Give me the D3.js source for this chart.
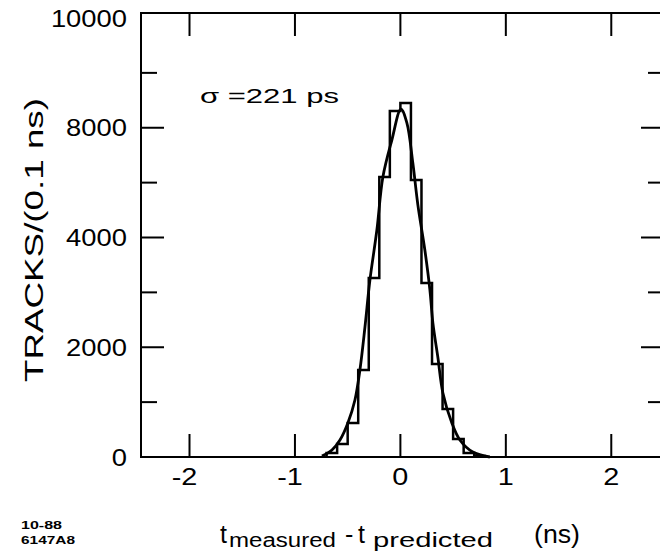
<!DOCTYPE html>
<html>
<head>
<meta charset="utf-8">
<script src="https://cdn.jsdelivr.net/npm/d3@7/dist/d3.min.js"></script>
<style>
  html, body { margin: 0; padding: 0; background: #fff; }
  svg { display: block; }
  text { font-family: "Liberation Sans", Arial, Helvetica, sans-serif; fill: #000; }
</style>
</head>
<body>
<svg id="chart" width="660" height="555"></svg>
<script>
// ---------- data ----------
const xTickValues = [-2, -1, 0, 1, 2];
const xTickLabels = ["-2", "-1", "0", "1", "2"];
const yTickValues = [0, 2000, 4000, 6000, 8000];
const yTickLabels = ["0", "2000", "4000", "8000", "10000"];
const yMinorValues = [1000, 3000, 5000, 7000];

// histogram: left edge of each 0.1 ns bin and its count
const binLeft   = [-0.7, -0.6, -0.5, -0.4, -0.3, -0.2, -0.1, 0.0, 0.1, 0.2, 0.3, 0.4, 0.5, 0.6, 0.7];
const binCounts = [73, 237, 620, 1585, 3262, 5103, 6305, 6451, 5048, 3171, 1695, 875, 328, 73, 18];
const binWidth = 0.1;

// fitted gaussian curve
const fitX = [-0.744, -0.649, -0.573, -0.498, -0.431, -0.384, -0.336, -0.289, -0.223, -0.166, -0.081, 0.005,
              0.062, 0.118, 0.166, 0.232, 0.280, 0.308, 0.355, 0.403, 0.488, 0.564, 0.687, 0.848];
const fitY = [18, 128, 310, 620, 1039, 1585, 2369, 3225, 4136, 5103, 5776, 6341,
              6086, 5357, 4591, 3772, 3043, 2442, 1822, 1166, 620, 310, 91, 0];

const sigmaText = "σ =221 ps";
const yTitle = "TRACKS/(0.1 ns)";
const footer = ["10-88", "6147A8"];

// ---------- layout ----------
const svg = d3.select("#chart");
const frame = { left: 141, right: 664, top: 13, bottom: 457 };

const x = d3.scaleLinear().domain([-2.46, 2.5]).range([frame.left, frame.right]);
const y = d3.scaleLinear().domain([0, 8000]).range([frame.bottom, 18]);

function stretch(sel, k) {
  sel.each(function () {
    const w = this.getComputedTextLength();
    d3.select(this).attr("textLength", w * k).attr("lengthAdjust", "spacingAndGlyphs");
  });
}

const majorLen = 23, minorLen = 16;
const axisStroke = 2;

// frame
svg.append("rect")
  .attr("x", frame.left).attr("y", frame.top)
  .attr("width", frame.right - frame.left).attr("height", frame.bottom - frame.top)
  .attr("fill", "none").attr("stroke", "#000").attr("stroke-width", axisStroke);

// x ticks (bottom, pointing up; top, pointing down)
const g = svg.append("g").attr("stroke", "#000").attr("stroke-width", axisStroke);
xTickValues.forEach(v => {
  g.append("line").attr("x1", x(v)).attr("x2", x(v)).attr("y1", frame.bottom).attr("y2", frame.bottom - majorLen);
  g.append("line").attr("x1", x(v)).attr("x2", x(v)).attr("y1", frame.top).attr("y2", frame.top + majorLen);
});
// y ticks left and right
yTickValues.filter(v => v > 0 && v < 8000).forEach(v => {
  g.append("line").attr("x1", frame.left).attr("x2", frame.left + majorLen).attr("y1", y(v)).attr("y2", y(v));
  g.append("line").attr("x1", frame.right).attr("x2", frame.right - majorLen).attr("y1", y(v)).attr("y2", y(v));
});
yMinorValues.forEach(v => {
  g.append("line").attr("x1", frame.left).attr("x2", frame.left + minorLen).attr("y1", y(v)).attr("y2", y(v));
  g.append("line").attr("x1", frame.right).attr("x2", frame.right - minorLen).attr("y1", y(v)).attr("y2", y(v));
});

// y tick labels
const yl = svg.append("g").selectAll("text").data(yTickValues).join("text")
  .attr("x", 127).attr("y", d => y(d)).attr("dy", "0.36em")
  .attr("text-anchor", "end").attr("font-size", 24)
  .text((d, i) => yTickLabels[i]);
stretch(yl, 1.14);

// x tick labels
const xl = svg.append("g").selectAll("text").data(xTickValues).join("text")
  .attr("x", d => x(d) - (d < 0 ? 5 : 0)).attr("y", 485)
  .attr("text-anchor", "middle").attr("font-size", 24)
  .text((d, i) => xTickLabels[i]);
stretch(xl, 1.2);

// histogram outline
const histPts = [{ x: binLeft[0], y: 0 }]
  .concat(binLeft.map((b, i) => ({ x: b, y: binCounts[i] })))
  .concat([{ x: binLeft[binLeft.length - 1] + binWidth, y: 0 }]);
svg.append("path")
  .attr("d", d3.line().x(d => x(d.x)).y(d => y(d.y)).curve(d3.curveStepAfter)(histPts))
  .attr("fill", "none").attr("stroke", "#000").attr("stroke-width", 2.5).attr("stroke-linejoin", "miter");

// fit curve
const fitPts = fitX.map((v, i) => ({ x: v, y: fitY[i] }));
svg.append("path")
  .attr("d", d3.line().x(d => x(d.x)).y(d => y(d.y)).curve(d3.curveCatmullRom.alpha(0.5))(fitPts))
  .attr("fill", "none").attr("stroke", "#000").attr("stroke-width", 2.8);

// sigma annotation
svg.append("text").attr("x", 200).attr("y", 103).attr("font-size", 21)
  .attr("textLength", 139).attr("lengthAdjust", "spacingAndGlyphs").text(sigmaText);

// y title
svg.append("text")
  .attr("transform", "translate(43,240) rotate(-90)")
  .attr("text-anchor", "middle").attr("font-size", 25)
  .attr("textLength", 284).attr("lengthAdjust", "spacingAndGlyphs").text(yTitle);

// x title pieces
const xt = svg.append("g");
const pieces = [
  { t: "t", x: 220, y: 543, s: 25 },
  { t: "measured", x: 229, y: 547, s: 20, w: 107 },
  { t: "-", x: 345, y: 543, s: 25 },
  { t: "t", x: 358, y: 543, s: 25 },
  { t: "predicted", x: 373, y: 547, s: 20, w: 120 },
  { t: "(ns)", x: 534, y: 543, s: 25, w: 46 }
];
pieces.forEach(p => {
  const el = xt.append("text").attr("x", p.x).attr("y", p.y).attr("font-size", p.s).text(p.t);
  if (p.w) el.attr("textLength", p.w).attr("lengthAdjust", "spacingAndGlyphs");
});

// footer
const footerW = [41, 54];
footer.forEach((f, i) => {
  svg.append("text").attr("x", 21).attr("y", 529 + i * 15)
    .attr("font-size", 11.5).attr("font-weight", "bold")
    .attr("textLength", footerW[i]).attr("lengthAdjust", "spacingAndGlyphs").text(f);
});
</script>
</body>
</html>
